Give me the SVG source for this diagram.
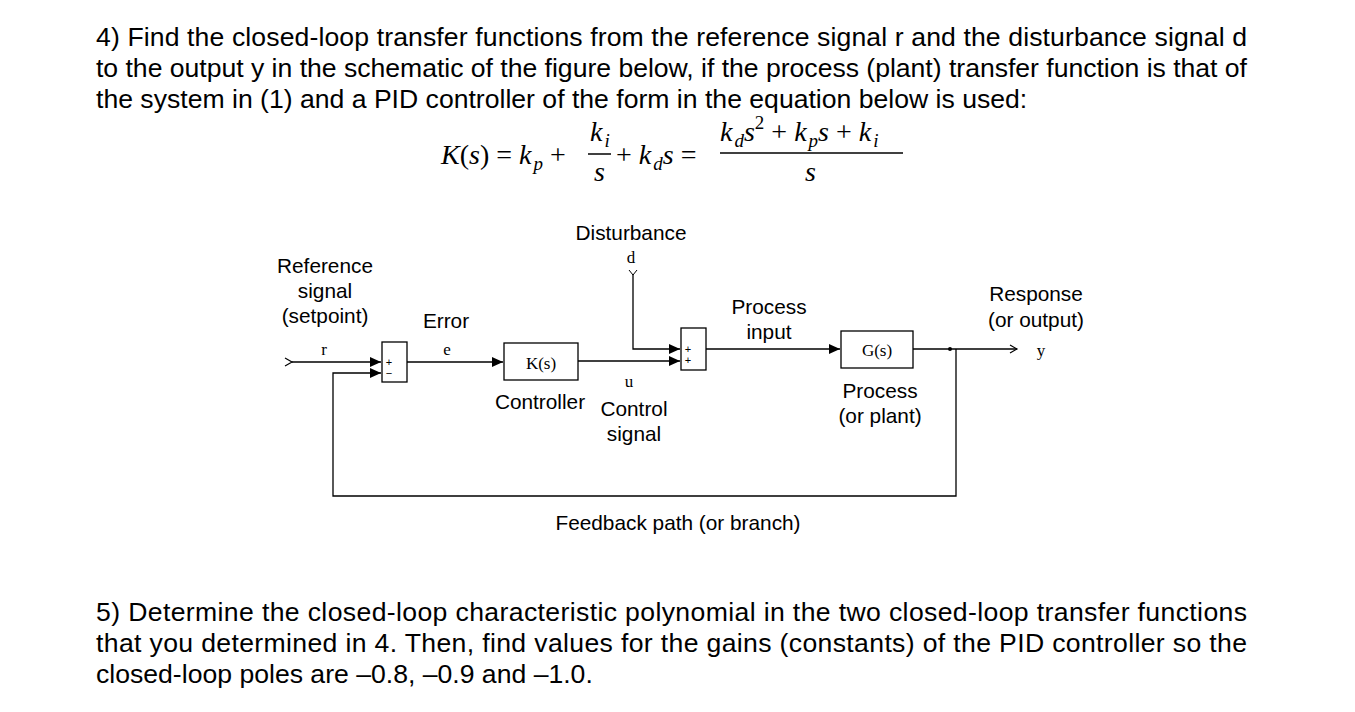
<svg xmlns="http://www.w3.org/2000/svg" width="1355" height="712" viewBox="0 0 1355 712">
<style>
.p{font-family:"Liberation Sans",Arial,sans-serif;font-size:26.6px;fill:#000}
.l{font-family:"Liberation Sans",Arial,sans-serif;font-size:20.8px;fill:#000;text-anchor:middle}
.s{font-family:"Liberation Serif","Times New Roman",serif;font-size:17px;fill:#000;text-anchor:middle}
.m{font-family:"Liberation Serif","Times New Roman",serif;font-style:italic;font-size:28px;fill:#000}
.mu{font-family:"Liberation Serif","Times New Roman",serif;font-style:normal;font-size:28px;fill:#000}
.sub{font-size:19px}
.b{fill:#fff;stroke:#000;stroke-width:1.3}
.w{fill:none;stroke:#000;stroke-width:1.3}
.sg{font-family:"Liberation Sans",Arial,sans-serif;font-size:11px;fill:#000;text-anchor:middle}
</style>
<defs>
<marker id="a" markerWidth="12" markerHeight="10" refX="11" refY="5" orient="auto" markerUnits="userSpaceOnUse"><path d="M0,0 L11,5 L0,10 Z" fill="#000"/></marker>
<marker id="o" markerWidth="10" markerHeight="10" refX="8" refY="5" orient="auto" markerUnits="userSpaceOnUse"><path d="M1,1 L8,5 L1,9" fill="none" stroke="#000" stroke-width="1.2"/></marker>
</defs>
<text class="p" x="96" y="46" textLength="1151" lengthAdjust="spacing">4) Find the closed-loop transfer functions from the reference signal r and the disturbance signal d</text>
<text class="p" x="96" y="77" textLength="1151" lengthAdjust="spacing">to the output y in the schematic of the figure below, if the process (plant) transfer function is that of</text>
<text class="p" x="96" y="108">the system in (1) and a PID controller of the form in the equation below is used:</text>
<g id="equation">
<text class="m" x="441" y="164">K<tspan class="mu">(</tspan>s<tspan class="mu">) = </tspan>k<tspan class="sub" dx="2" dy="6">p</tspan><tspan class="mu" dy="-6"> +</tspan></text>
<text class="m" x="590" y="141">k<tspan class="sub" dx="2" dy="6">i</tspan></text>
<line x1="588" y1="154" x2="611" y2="154" stroke="#000" stroke-width="1.5"/>
<text class="m" x="594" y="181">s</text>
<text class="mu" x="616" y="164">+ <tspan class="m">k</tspan><tspan class="m sub" dx="2" dy="6">d</tspan><tspan class="m" dy="-6">s</tspan> =</text>
<text class="m" x="720" y="141">k<tspan class="sub" dx="2" dy="6">d</tspan><tspan dy="-6">s</tspan><tspan class="mu sub" dy="-12">2</tspan><tspan class="mu" dy="12"> + </tspan>k<tspan class="sub" dx="2" dy="6">p</tspan><tspan dy="-6">s</tspan><tspan class="mu"> + </tspan>k<tspan class="sub" dx="2" dy="6">i</tspan></text>
<line x1="720" y1="153" x2="903" y2="153" stroke="#000" stroke-width="1.5"/>
<text class="m" x="805" y="181">s</text>
</g>
<g id="connectors">
<line class="w" x1="292" y1="362" x2="381" y2="362" marker-start="url(#o)" marker-end="url(#a)"/>
<line class="w" x1="407" y1="362" x2="503" y2="362" marker-end="url(#a)"/>
<line class="w" x1="578" y1="361" x2="680" y2="361" marker-end="url(#a)"/>
<polyline class="w" points="633,274 633,349 680,349" marker-end="url(#a)"/>
<line class="w" x1="706" y1="349" x2="840" y2="349" marker-end="url(#a)"/>
<line class="w" x1="913" y1="349" x2="1017" y2="349" marker-end="url(#o)"/>
<circle cx="950" cy="349" r="2" fill="#000"/>
<polyline class="w" points="956,349 956,496 333,496 333,373 381,373" marker-end="url(#a)"/>
<path d="M629,270 L633,275 L637,270" fill="none" stroke="#000" stroke-width="1"/>
</g>
<g id="sum1"><rect class="b" x="382" y="342" width="25" height="40"/><text class="sg" x="389" y="366">+</text><text class="sg" x="389" y="377">−</text></g>
<g id="controller"><rect class="b" x="504" y="343" width="74" height="37"/><text class="s" x="541" y="369" font-size="19">K(s)</text></g>
<g id="sum2"><rect class="b" x="681" y="328" width="25" height="42"/><text class="sg" x="688" y="353">+</text><text class="sg" x="688" y="364">+</text></g>
<g id="plant"><rect class="b" x="841" y="331" width="72" height="37"/><text class="s" x="877" y="356" font-size="19">G(s)</text></g>
<g id="labels">
<text class="l" x="631" y="240">Disturbance</text>
<text class="s" x="631" y="263">d</text>
<text class="l" x="325" y="273">Reference</text>
<text class="l" x="325" y="298">signal</text>
<text class="l" x="325" y="323">(setpoint)</text>
<text class="s" x="324" y="355">r</text>
<text class="l" x="446" y="328">Error</text>
<text class="s" x="447" y="355">e</text>
<text class="l" x="769" y="314">Process</text>
<text class="l" x="769" y="339">input</text>
<text class="l" x="1036" y="301">Response</text>
<text class="l" x="1036" y="327">(or output)</text>
<text class="s" x="1041" y="356">y</text>
<text class="s" x="629" y="387">u</text>
<text class="l" x="540" y="409">Controller</text>
<text class="l" x="634" y="416">Control</text>
<text class="l" x="634" y="441">signal</text>
<text class="l" x="880" y="398">Process</text>
<text class="l" x="880" y="423">(or plant)</text>
<text class="l" x="678" y="530">Feedback path (or branch)</text>
</g>
<text class="p" x="96" y="621" textLength="1151" lengthAdjust="spacing">5) Determine the closed-loop characteristic polynomial in the two closed-loop transfer functions</text>
<text class="p" x="96" y="652" textLength="1151" lengthAdjust="spacing">that you determined in 4. Then, find values for the gains (constants) of the PID controller so the</text>
<text class="p" x="96" y="683">closed-loop poles are –0.8, –0.9 and –1.0.</text>
</svg>
